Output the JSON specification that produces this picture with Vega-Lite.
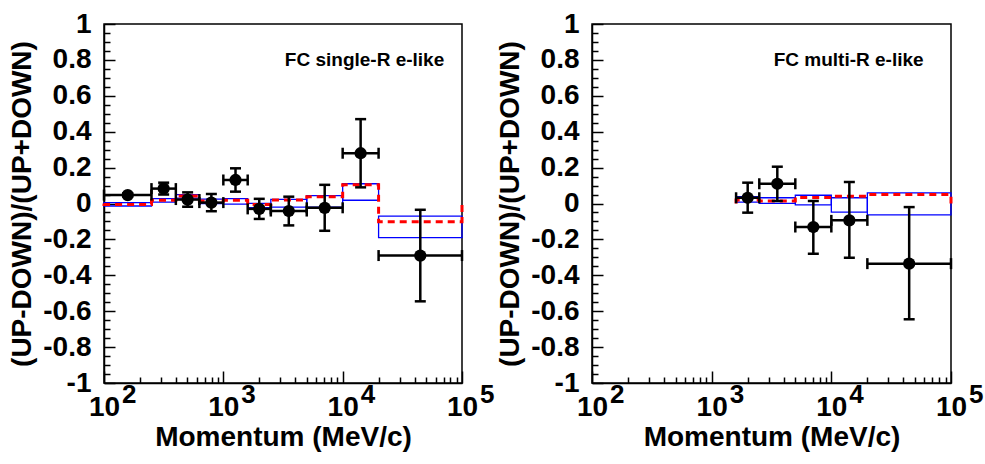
{
  "$schema": "https://vega.github.io/schema/vega-lite/v6.json",
  "background": "white",
  "padding": {"left": 8, "top": 9, "right": 5, "bottom": 5},
  "bounds": "flush",
  "spacing": 130,
  "config": {
    "font": "Liberation Sans",
    "view": {"stroke": "black", "strokeWidth": 1.5},
    "axis": {
      "grid": false,
      "labelOverlap": false,
      "labelFlush": false,
      "labelBound": false,
      "labelFont": "Liberation Sans",
      "labelFontSize": 28,
      "labelFontWeight": "bold",
      "labelColor": "black",
      "tickColor": "black",
      "tickWidth": 1.5,
      "domainColor": "black",
      "domainWidth": 1.5,
      "titleFont": "Liberation Sans",
      "titleFontSize": 28,
      "titleFontWeight": "bold",
      "titleColor": "black"
    }
  },
  "datasets": {
    "ptsL": [
      {"lo": 100, "hi": 250, "xc": 158.1, "v": 0.047, "vlo": 0.037, "vhi": 0.057},
      {"lo": 250, "hi": 400, "xc": 316.2, "v": 0.083, "vlo": 0.05, "vhi": 0.116},
      {"lo": 400, "hi": 630, "xc": 502, "v": 0.022, "vlo": -0.018, "vhi": 0.062},
      {"lo": 630, "hi": 1000, "xc": 793.7, "v": 0.005, "vlo": -0.043, "vhi": 0.053},
      {"lo": 1000, "hi": 1600, "xc": 1265, "v": 0.131, "vlo": 0.066, "vhi": 0.196},
      {"lo": 1600, "hi": 2500, "xc": 2000, "v": -0.03, "vlo": -0.086, "vhi": 0.026},
      {"lo": 2500, "hi": 5000, "xc": 3536, "v": -0.042, "vlo": -0.122, "vhi": 0.038},
      {"lo": 5000, "hi": 10000, "xc": 7071, "v": -0.024, "vlo": -0.152, "vhi": 0.104},
      {"lo": 10000, "hi": 20000, "xc": 14142, "v": 0.28, "vlo": 0.09, "vhi": 0.47},
      {"lo": 20000, "hi": 100000, "xc": 44721, "v": -0.29, "vlo": -0.545, "vhi": -0.035}
    ],
    "boxL": [
      {"lo": 100, "hi": 250, "top": 0.005, "bot": -0.014},
      {"lo": 250, "hi": 400, "top": 0.027, "bot": 0.008},
      {"lo": 400, "hi": 630, "top": 0.05, "bot": 0.03},
      {"lo": 630, "hi": 1000, "top": 0.024, "bot": 0.0},
      {"lo": 1000, "hi": 1600, "top": 0.027, "bot": -0.004},
      {"lo": 1600, "hi": 2500, "top": 0.001, "bot": -0.023},
      {"lo": 2500, "hi": 5000, "top": 0.023, "bot": -0.02},
      {"lo": 5000, "hi": 10000, "top": 0.044, "bot": -0.02},
      {"lo": 10000, "hi": 20000, "top": 0.11, "bot": 0.018},
      {"lo": 20000, "hi": 100000, "top": -0.07, "bot": -0.19}
    ],
    "stepL": [
      {"i": 0, "x": 100, "v": 0},
      {"i": 1, "x": 100, "v": -0.005},
      {"i": 2, "x": 250, "v": 0.018},
      {"i": 3, "x": 400, "v": 0.042},
      {"i": 4, "x": 630, "v": 0.014},
      {"i": 5, "x": 1000, "v": 0.018},
      {"i": 6, "x": 1600, "v": -0.006},
      {"i": 7, "x": 2500, "v": 0.02},
      {"i": 8, "x": 5000, "v": 0.038},
      {"i": 9, "x": 10000, "v": 0.105},
      {"i": 10, "x": 20000, "v": -0.101},
      {"i": 11, "x": 100000, "v": -0.101},
      {"i": 12, "x": 100000, "v": 0}
    ],
    "ptsR": [
      {"lo": 1600, "hi": 2500, "xc": 2000, "v": 0.032, "vlo": -0.051, "vhi": 0.116},
      {"lo": 2500, "hi": 5000, "xc": 3536, "v": 0.11, "vlo": 0.014, "vhi": 0.205},
      {"lo": 5000, "hi": 10000, "xc": 7071, "v": -0.131, "vlo": -0.28, "vhi": 0.014},
      {"lo": 10000, "hi": 20000, "xc": 14142, "v": -0.094, "vlo": -0.302, "vhi": 0.12},
      {"lo": 20000, "hi": 100000, "xc": 44721, "v": -0.335, "vlo": -0.645, "vhi": -0.02}
    ],
    "boxR": [
      {"lo": 1600, "hi": 2500, "top": 0.038, "bot": 0.008},
      {"lo": 2500, "hi": 5000, "top": 0.032, "bot": 0.001},
      {"lo": 5000, "hi": 10000, "top": 0.046, "bot": -0.008},
      {"lo": 10000, "hi": 20000, "top": 0.032, "bot": -0.048},
      {"lo": 20000, "hi": 100000, "top": 0.059, "bot": -0.063}
    ],
    "stepR": [
      {"i": 0, "x": 1600, "v": 0},
      {"i": 1, "x": 1600, "v": 0.019},
      {"i": 2, "x": 2500, "v": 0.014},
      {"i": 3, "x": 5000, "v": 0.034},
      {"i": 4, "x": 10000, "v": 0.041},
      {"i": 5, "x": 20000, "v": 0.05},
      {"i": 6, "x": 100000, "v": 0.05},
      {"i": 7, "x": 100000, "v": 0}
    ],
    "expo": [
      {"x": 100, "e": "2"},
      {"x": 1000, "e": "3"},
      {"x": 10000, "e": "4"},
      {"x": 100000, "e": "5"}
    ]
  },
  "hconcat": [
    {
      "width": 358,
      "height": 359,
      "resolve": {"axis": {"y": "independent"}},
      "layer": [
        {
          "data": {"name": "boxL"},
          "mark": {"type": "rect", "fill": "transparent", "stroke": "#0000ff", "strokeWidth": 1.3},
          "encoding": {
            "x": {"field": "lo", "type": "quantitative", "title": "Momentum (MeV/c)",
              "scale": {"type": "log", "domain": [100, 100000], "nice": false},
              "axis": {
                "values": [100,200,300,400,500,600,700,800,900,1000,2000,3000,4000,5000,6000,7000,8000,9000,10000,20000,30000,40000,50000,60000,70000,80000,90000,100000],
                "labelExpr": "abs(log(datum.value)/LN10 - round(log(datum.value)/LN10)) < 0.001 ? '10' : ''",
                "tickSize": {"condition": {"test": "abs(log(datum.value)/LN10 - round(log(datum.value)/LN10)) < 0.001", "value": -12}, "value": -6},
                "labelOverlap": false,
                "labelPadding": 22,
                "titlePadding": -4
              }
            },
            "x2": {"field": "hi"},
            "y": {"field": "top", "type": "quantitative", "title": "(UP-DOWN)/(UP+DOWN)",
              "scale": {"domain": [-1, 1], "nice": false, "zero": false},
              "axis": {
                "orient": "left",
                "values": [-1,-0.8,-0.6,-0.4,-0.2,0,0.2,0.4,0.6,0.8,1],
                "labelExpr": "(datum.value < -0.001 ? '-' : '') + format(abs(datum.value), '~g')",
                "tickSize": -11,
                "labelOverlap": false,
                "labelPadding": 24,
                "titlePadding": 6
              }
            },
            "y2": {"field": "bot"}
          }
        },
        {
          "data": {"name": "stepL"},
          "mark": {"type": "line", "interpolate": "step-after", "color": "#ff0000", "strokeWidth": 3, "strokeDash": [7, 5]},
          "encoding": {
            "x": {"field": "x", "type": "quantitative", "title": "Momentum (MeV/c)"},
            "y": {"field": "v", "type": "quantitative", "title": null,
              "axis": {
                "orient": "left",
                "values": [-0.95,-0.9,-0.85,-0.75,-0.7,-0.65,-0.55,-0.5,-0.45,-0.35,-0.3,-0.25,-0.15,-0.1,-0.05,0.05,0.1,0.15,0.25,0.3,0.35,0.45,0.5,0.55,0.65,0.7,0.75,0.85,0.9,0.95],
                "labels": false,
                "domain": false,
                "tickSize": -6,
                "offset": 0
              }
            },
            "order": {"field": "i", "type": "quantitative"}
          }
        },
        {
          "data": {"name": "ptsL"},
          "mark": {"type": "rule", "color": "black", "strokeWidth": 2.5},
          "encoding": {
            "x": {"field": "lo", "type": "quantitative", "title": "Momentum (MeV/c)"},
            "x2": {"field": "hi"},
            "y": {"field": "v", "type": "quantitative", "axis": null}
          }
        },
        {
          "data": {"name": "ptsL"},
          "mark": {"type": "rule", "color": "black", "strokeWidth": 2.5},
          "encoding": {
            "x": {"field": "xc", "type": "quantitative", "title": "Momentum (MeV/c)"},
            "y": {"field": "vlo", "type": "quantitative", "axis": null},
            "y2": {"field": "vhi"}
          }
        },
        {
          "data": {"name": "ptsL"},
          "mark": {"type": "tick", "orient": "horizontal", "color": "black", "size": 11, "thickness": 2.5, "opacity": 1},
          "encoding": {
            "x": {"field": "xc", "type": "quantitative", "title": "Momentum (MeV/c)"},
            "y": {"field": "vlo", "type": "quantitative", "axis": null}
          }
        },
        {
          "data": {"name": "ptsL"},
          "mark": {"type": "tick", "orient": "horizontal", "color": "black", "size": 11, "thickness": 2.5, "opacity": 1},
          "encoding": {
            "x": {"field": "xc", "type": "quantitative", "title": "Momentum (MeV/c)"},
            "y": {"field": "vhi", "type": "quantitative", "axis": null}
          }
        },
        {
          "data": {"name": "ptsL"},
          "mark": {"type": "tick", "orient": "vertical", "color": "black", "size": 11, "thickness": 2.5, "opacity": 1},
          "encoding": {
            "x": {"field": "lo", "type": "quantitative", "title": "Momentum (MeV/c)"},
            "y": {"field": "v", "type": "quantitative", "axis": null}
          }
        },
        {
          "data": {"name": "ptsL"},
          "mark": {"type": "tick", "orient": "vertical", "color": "black", "size": 11, "thickness": 2.5, "opacity": 1},
          "encoding": {
            "x": {"field": "hi", "type": "quantitative", "title": "Momentum (MeV/c)"},
            "y": {"field": "v", "type": "quantitative", "axis": null}
          }
        },
        {
          "data": {"name": "ptsL"},
          "mark": {"type": "circle", "color": "black", "size": 150, "opacity": 1},
          "encoding": {
            "x": {"field": "xc", "type": "quantitative", "title": "Momentum (MeV/c)"},
            "y": {"field": "v", "type": "quantitative", "axis": null}
          }
        },
        {
          "data": {"values": [{"x": 71000, "y": 0.8, "t": "FC single-R e-like"}]},
          "mark": {"type": "text", "align": "right", "baseline": "middle", "fontSize": 19, "fontWeight": "bold", "font": "Liberation Sans", "color": "black"},
          "encoding": {
            "x": {"field": "x", "type": "quantitative", "title": "Momentum (MeV/c)"},
            "y": {"field": "y", "type": "quantitative", "axis": null},
            "text": {"field": "t"}
          }
        },
        {
          "data": {"name": "expo"},
          "mark": {"type": "text", "align": "left", "baseline": "middle", "dx": 18, "dy": 12, "fontSize": 26, "fontWeight": "bold", "font": "Liberation Sans", "color": "black"},
          "encoding": {
            "x": {"field": "x", "type": "quantitative", "title": "Momentum (MeV/c)"},
            "y": {"datum": -1, "type": "quantitative", "axis": null},
            "text": {"field": "e"}
          }
        }
      ]
    },
    {
      "width": 359,
      "height": 359,
      "resolve": {"axis": {"y": "independent"}},
      "layer": [
        {
          "data": {"name": "boxR"},
          "mark": {"type": "rect", "fill": "transparent", "stroke": "#0000ff", "strokeWidth": 1.3},
          "encoding": {
            "x": {"field": "lo", "type": "quantitative", "title": "Momentum (MeV/c)",
              "scale": {"type": "log", "domain": [100, 100000], "nice": false},
              "axis": {
                "values": [100,200,300,400,500,600,700,800,900,1000,2000,3000,4000,5000,6000,7000,8000,9000,10000,20000,30000,40000,50000,60000,70000,80000,90000,100000],
                "labelExpr": "abs(log(datum.value)/LN10 - round(log(datum.value)/LN10)) < 0.001 ? '10' : ''",
                "tickSize": {"condition": {"test": "abs(log(datum.value)/LN10 - round(log(datum.value)/LN10)) < 0.001", "value": -12}, "value": -6},
                "labelOverlap": false,
                "labelPadding": 22,
                "titlePadding": -4
              }
            },
            "x2": {"field": "hi"},
            "y": {"field": "top", "type": "quantitative", "title": "(UP-DOWN)/(UP+DOWN)",
              "scale": {"domain": [-1, 1], "nice": false, "zero": false},
              "axis": {
                "orient": "left",
                "values": [-1,-0.8,-0.6,-0.4,-0.2,0,0.2,0.4,0.6,0.8,1],
                "labelExpr": "(datum.value < -0.001 ? '-' : '') + format(abs(datum.value), '~g')",
                "tickSize": -11,
                "labelOverlap": false,
                "labelPadding": 24,
                "titlePadding": 6
              }
            },
            "y2": {"field": "bot"}
          }
        },
        {
          "data": {"name": "stepR"},
          "mark": {"type": "line", "interpolate": "step-after", "color": "#ff0000", "strokeWidth": 3, "strokeDash": [7, 5]},
          "encoding": {
            "x": {"field": "x", "type": "quantitative", "title": "Momentum (MeV/c)"},
            "y": {"field": "v", "type": "quantitative", "title": null,
              "axis": {
                "orient": "left",
                "values": [-0.95,-0.9,-0.85,-0.75,-0.7,-0.65,-0.55,-0.5,-0.45,-0.35,-0.3,-0.25,-0.15,-0.1,-0.05,0.05,0.1,0.15,0.25,0.3,0.35,0.45,0.5,0.55,0.65,0.7,0.75,0.85,0.9,0.95],
                "labels": false,
                "domain": false,
                "tickSize": -6,
                "offset": 0
              }
            },
            "order": {"field": "i", "type": "quantitative"}
          }
        },
        {
          "data": {"name": "ptsR"},
          "mark": {"type": "rule", "color": "black", "strokeWidth": 2.5},
          "encoding": {
            "x": {"field": "lo", "type": "quantitative", "title": "Momentum (MeV/c)"},
            "x2": {"field": "hi"},
            "y": {"field": "v", "type": "quantitative", "axis": null}
          }
        },
        {
          "data": {"name": "ptsR"},
          "mark": {"type": "rule", "color": "black", "strokeWidth": 2.5},
          "encoding": {
            "x": {"field": "xc", "type": "quantitative", "title": "Momentum (MeV/c)"},
            "y": {"field": "vlo", "type": "quantitative", "axis": null},
            "y2": {"field": "vhi"}
          }
        },
        {
          "data": {"name": "ptsR"},
          "mark": {"type": "tick", "orient": "horizontal", "color": "black", "size": 11, "thickness": 2.5, "opacity": 1},
          "encoding": {
            "x": {"field": "xc", "type": "quantitative", "title": "Momentum (MeV/c)"},
            "y": {"field": "vlo", "type": "quantitative", "axis": null}
          }
        },
        {
          "data": {"name": "ptsR"},
          "mark": {"type": "tick", "orient": "horizontal", "color": "black", "size": 11, "thickness": 2.5, "opacity": 1},
          "encoding": {
            "x": {"field": "xc", "type": "quantitative", "title": "Momentum (MeV/c)"},
            "y": {"field": "vhi", "type": "quantitative", "axis": null}
          }
        },
        {
          "data": {"name": "ptsR"},
          "mark": {"type": "tick", "orient": "vertical", "color": "black", "size": 11, "thickness": 2.5, "opacity": 1},
          "encoding": {
            "x": {"field": "lo", "type": "quantitative", "title": "Momentum (MeV/c)"},
            "y": {"field": "v", "type": "quantitative", "axis": null}
          }
        },
        {
          "data": {"name": "ptsR"},
          "mark": {"type": "tick", "orient": "vertical", "color": "black", "size": 11, "thickness": 2.5, "opacity": 1},
          "encoding": {
            "x": {"field": "hi", "type": "quantitative", "title": "Momentum (MeV/c)"},
            "y": {"field": "v", "type": "quantitative", "axis": null}
          }
        },
        {
          "data": {"name": "ptsR"},
          "mark": {"type": "circle", "color": "black", "size": 150, "opacity": 1},
          "encoding": {
            "x": {"field": "xc", "type": "quantitative", "title": "Momentum (MeV/c)"},
            "y": {"field": "v", "type": "quantitative", "axis": null}
          }
        },
        {
          "data": {"values": [{"x": 59000, "y": 0.8, "t": "FC multi-R e-like"}]},
          "mark": {"type": "text", "align": "right", "baseline": "middle", "fontSize": 19, "fontWeight": "bold", "font": "Liberation Sans", "color": "black"},
          "encoding": {
            "x": {"field": "x", "type": "quantitative", "title": "Momentum (MeV/c)"},
            "y": {"field": "y", "type": "quantitative", "axis": null},
            "text": {"field": "t"}
          }
        },
        {
          "data": {"name": "expo"},
          "mark": {"type": "text", "align": "left", "baseline": "middle", "dx": 18, "dy": 12, "fontSize": 26, "fontWeight": "bold", "font": "Liberation Sans", "color": "black"},
          "encoding": {
            "x": {"field": "x", "type": "quantitative", "title": "Momentum (MeV/c)"},
            "y": {"datum": -1, "type": "quantitative", "axis": null},
            "text": {"field": "e"}
          }
        }
      ]
    }
  ]
}
